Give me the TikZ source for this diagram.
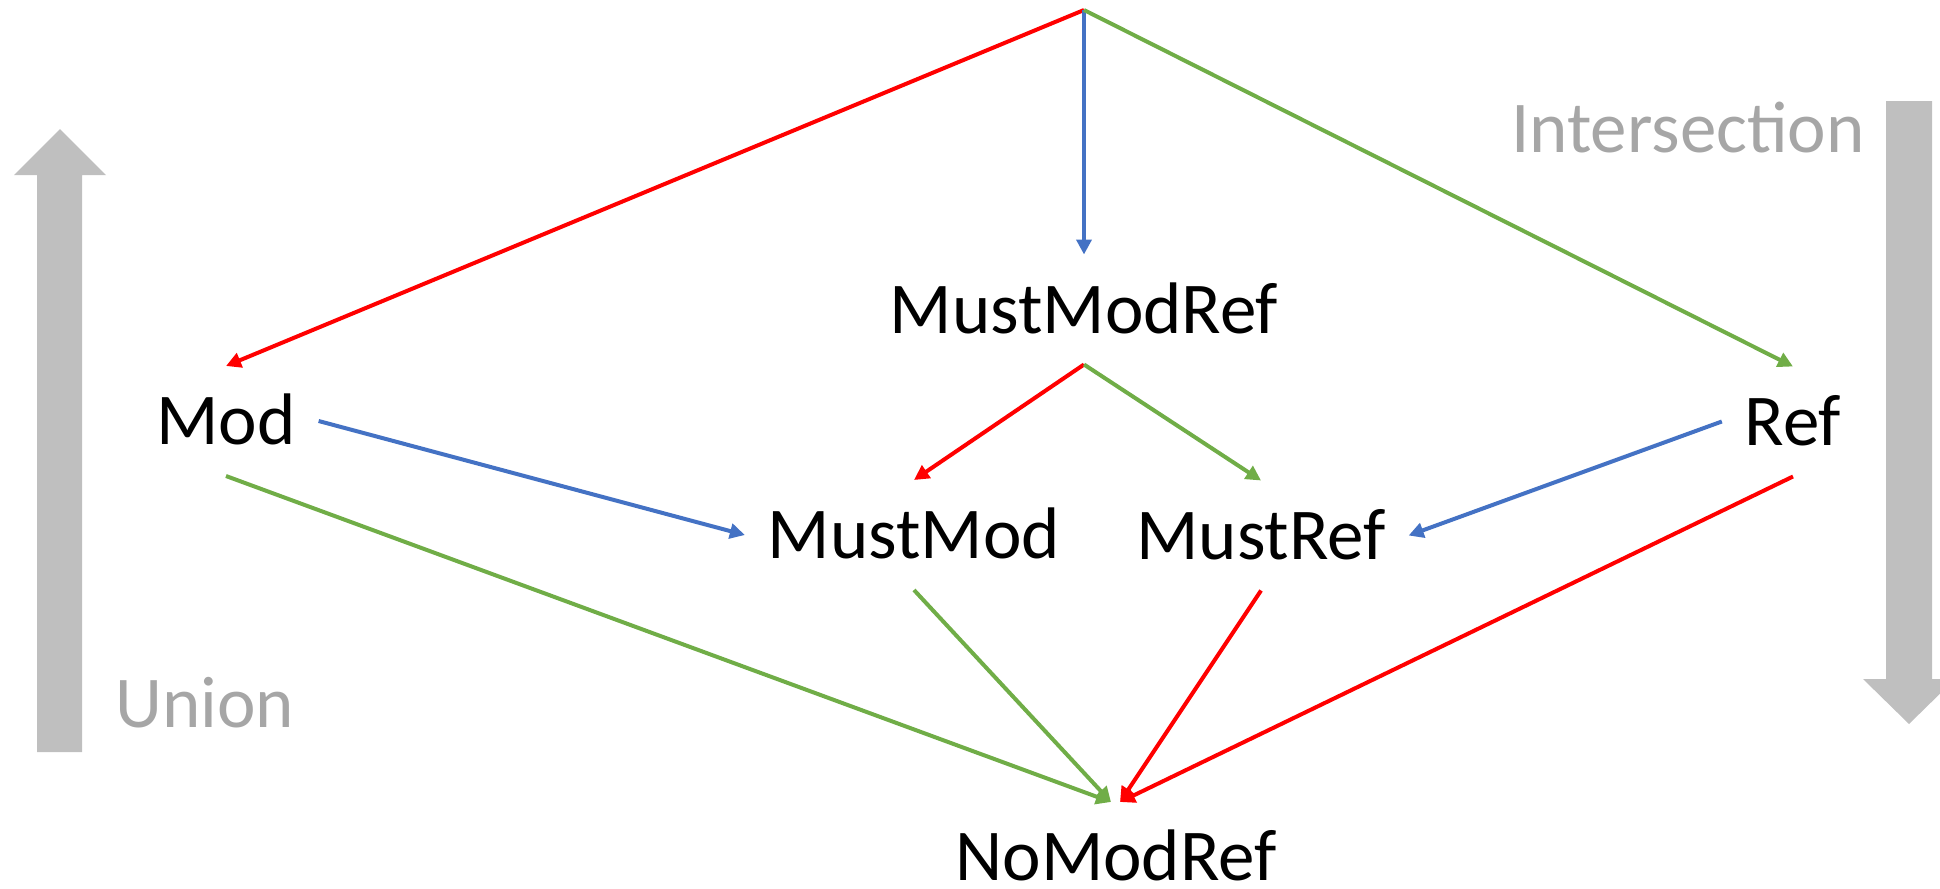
\documentclass[tikz,border=0pt]{standalone}
\usepackage{fontspec}
\setmainfont{Carlito}
\usetikzlibrary{arrows.meta}

\definecolor{EdgeRed}{HTML}{FF0000}
\definecolor{EdgeBlue}{HTML}{4472C4}
\definecolor{EdgeGreen}{HTML}{70AD47}
\definecolor{BigArrowGrey}{HTML}{BFBFBF}
\definecolor{CaptionGrey}{HTML}{A6A6A6}

\begin{document}
\begin{tikzpicture}[x=0.5pt,y=-0.5pt]
  \tikzset{LabelStyle/.style = {
    shape         = rectangle,
    text          = black,
    font          = \fontsize{36.5}{44}\selectfont,
    text height   = 23.5pt,
    text depth    = 0pt,
    inner xsep    = 11.5pt,
    inner ysep    = 15.75pt,
    outer sep     = 0pt
    }
  }
  \tikzset{CaptionStyle/.style = {
    text          = CaptionGrey,
    font          = \fontsize{36.5}{44}\selectfont,
    inner sep     = 0pt,
    anchor        = base
    }
  }
  \tikzset{EdgeStyle/.style = {
    line width      = 2pt,
    -{Triangle[length=7.5pt,width=7.5pt]}
    }
  }

  \useasboundingbox (0,0) rectangle (1940,889);
  \clip (0,0) rectangle (1940,889);

  % direction arrows
  \fill[BigArrowGrey] (37,752) -- (37,175) -- (14,175) -- (60,129) -- (106,175)
    -- (82,175) -- (82,752) -- cycle;
  \fill[BigArrowGrey] (1886,101) -- (1886,679) -- (1863,679) -- (1909,724)
    -- (1955,679) -- (1932,679) -- (1932,101) -- cycle;
  \node[CaptionStyle](union) at (205,727) {Union};
  \node[CaptionStyle](inter) at (1688,152) {Intersection};

  % lattice
  \coordinate (top) at (1084,10);
  \node[LabelStyle](mmr) at (1084,309.5) {MustModRef};
  \node[LabelStyle](mod) at (226,421) {Mod};
  \node[LabelStyle](ref) at (1793,421.5) {Ref};
  \node[LabelStyle](mm) at (914,535) {MustMod};
  \node[LabelStyle](mr) at (1261,535.5) {MustRef};
  \node[LabelStyle](nmr) at (1116,857) {NoModRef};

  \draw[EdgeStyle, EdgeRed](top) to (mod.north);
  \draw[EdgeStyle, EdgeBlue](top) to (mmr.north);
  \draw[EdgeStyle, EdgeGreen](top) to (ref.north);
  \draw[EdgeStyle, EdgeRed](mmr.south) to (mm.north);
  \draw[EdgeStyle, EdgeGreen](mmr.south) to (mr.north);
  \draw[EdgeStyle, EdgeBlue](mod.east) to (mm.west);
  \draw[EdgeStyle, EdgeBlue](ref.west) to (mr.east);
  \draw[EdgeStyle, EdgeGreen](mod.south) to ([xshift=-2.5pt]nmr.north);
  \draw[EdgeStyle, EdgeGreen](mm.south) to ([xshift=-2.5pt]nmr.north);
  \draw[EdgeStyle, EdgeRed](mr.south) to ([xshift=2pt]nmr.north);
  \draw[EdgeStyle, EdgeRed](ref.south) to ([xshift=2pt]nmr.north);

\end{tikzpicture}
\end{document}
